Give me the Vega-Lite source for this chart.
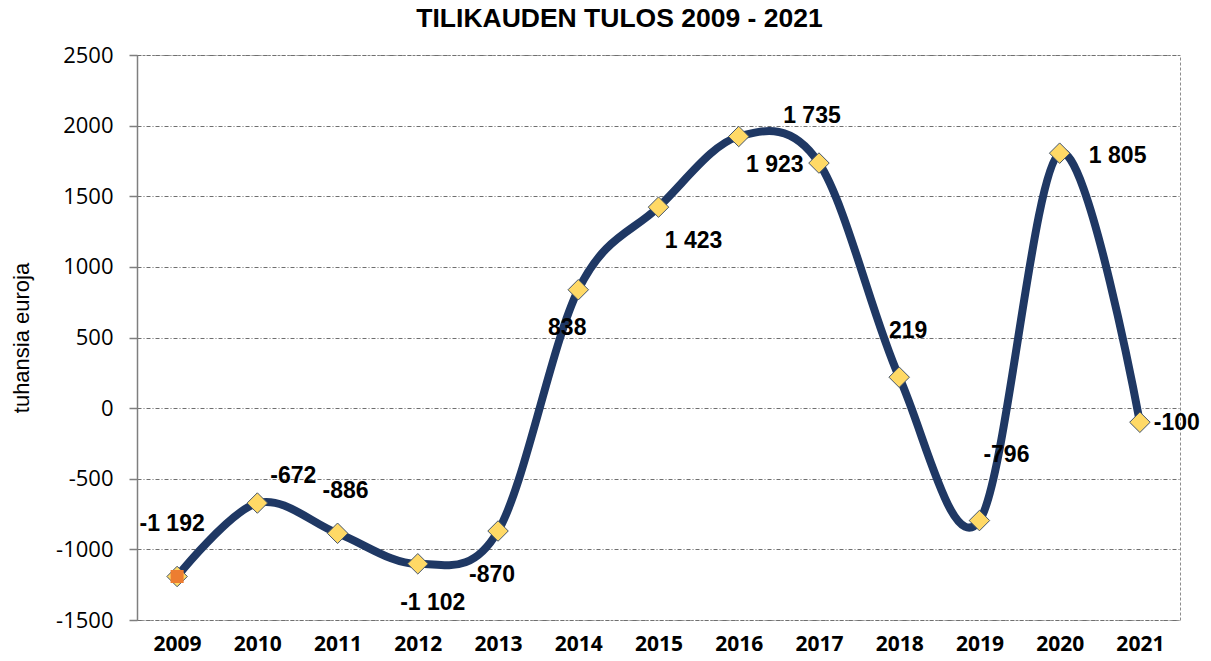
{
  "$schema": "https://vega.github.io/schema/vega-lite/v6.json",
  "width": 1043,
  "height": 565,
  "padding": {"left": 10, "top": 5, "right": 5, "bottom": 5},
  "background": "white",
  "title": {"text": "TILIKAUDEN TULOS 2009 - 2021", "font": "Liberation Sans", "fontSize": 26.5, "fontWeight": "bold", "color": "#000000", "anchor": "middle", "frame": "group", "dx": -39, "offset": 12},
  "config": {
    "view": {"stroke": "#8c8c8c", "strokeDash": [3, 2], "strokeWidth": 1},
    "font": "Liberation Sans"
  },
  "data": {"values": [
    {"year": "2009", "value": -1192, "label": "-1 192"},
    {"year": "2010", "value": -672, "label": "-672"},
    {"year": "2011", "value": -886, "label": "-886"},
    {"year": "2012", "value": -1102, "label": "-1 102"},
    {"year": "2013", "value": -870, "label": "-870"},
    {"year": "2014", "value": 838, "label": "838"},
    {"year": "2015", "value": 1423, "label": "1 423"},
    {"year": "2016", "value": 1923, "label": "1 923"},
    {"year": "2017", "value": 1735, "label": "1 735"},
    {"year": "2018", "value": 219, "label": "219"},
    {"year": "2019", "value": -796, "label": "-796"},
    {"year": "2020", "value": 1805, "label": "1 805"},
    {"year": "2021", "value": -100, "label": "-100"}
  ]},
  "encoding": {
    "x": {"field": "year", "type": "ordinal", "scale": {"type": "point", "padding": 0.5},
      "axis": {"title": null, "labelAngle": 0, "domain": false, "ticks": false, "labelFont": "Open Sans", "labelFontSize": 21, "labelFontWeight": "bold", "labelColor": "#000000", "labelPadding": 13}},
    "y": {"field": "value", "type": "quantitative", "scale": {"domain": [-1500, 2500], "nice": false, "zero": false},
      "axis": {"title": "tuhansia euroja", "titleFont": "Liberation Sans", "titleFontSize": 22, "titleFontWeight": "normal", "titleColor": "#000000", "titlePadding": 22,
        "values": [-1500, -1000, -500, 0, 500, 1000, 1500, 2000, 2500], "labelExpr": "datum.value + ''",
        "labelFont": "Open Sans", "labelFontSize": 22, "labelColor": "#000000", "labelPadding": 16,
        "domain": true, "domainColor": "#7f7f7f", "domainWidth": 1.5, "ticks": true, "tickSize": 8, "tickColor": "#7f7f7f", "tickWidth": 1.5,
        "grid": true, "gridColor": "#6f6f6f", "gridDash": [4, 2, 1, 2], "gridWidth": 1}}
  },
  "layer": [
    {"mark": {"type": "line", "interpolate": "cardinal", "color": "#1F3864", "strokeWidth": 8}},
    {"mark": {"type": "point", "shape": "diamond", "filled": true, "fill": "#FFD966", "stroke": "#44546A", "strokeWidth": 1, "size": 420, "opacity": 1}},
    {"transform": [{"filter": "datum.year == '2009'"}], "mark": {"type": "point", "shape": "square", "filled": true, "fill": "#ED7D31", "size": 170, "opacity": 1}},
    {"transform": [{"filter": "datum.year == '2009'"}], "mark": {"type": "text", "font": "Liberation Sans", "fontSize": 23, "fontWeight": "bold", "color": "#000000", "dx": -5, "dy": -52}, "encoding": {"text": {"field": "label"}}},
    {"transform": [{"filter": "datum.year == '2010'"}], "mark": {"type": "text", "font": "Liberation Sans", "fontSize": 23, "fontWeight": "bold", "color": "#000000", "dx": 36, "dy": -27}, "encoding": {"text": {"field": "label"}}},
    {"transform": [{"filter": "datum.year == '2011'"}], "mark": {"type": "text", "font": "Liberation Sans", "fontSize": 23, "fontWeight": "bold", "color": "#000000", "dx": 8, "dy": -42}, "encoding": {"text": {"field": "label"}}},
    {"transform": [{"filter": "datum.year == '2012'"}], "mark": {"type": "text", "font": "Liberation Sans", "fontSize": 23, "fontWeight": "bold", "color": "#000000", "dx": 15, "dy": 39}, "encoding": {"text": {"field": "label"}}},
    {"transform": [{"filter": "datum.year == '2013'"}], "mark": {"type": "text", "font": "Liberation Sans", "fontSize": 23, "fontWeight": "bold", "color": "#000000", "dx": -6, "dy": 44}, "encoding": {"text": {"field": "label"}}},
    {"transform": [{"filter": "datum.year == '2014'"}], "mark": {"type": "text", "font": "Liberation Sans", "fontSize": 23, "fontWeight": "bold", "color": "#000000", "dx": -11, "dy": 38}, "encoding": {"text": {"field": "label"}}},
    {"transform": [{"filter": "datum.year == '2015'"}], "mark": {"type": "text", "font": "Liberation Sans", "fontSize": 23, "fontWeight": "bold", "color": "#000000", "dx": 35, "dy": 34}, "encoding": {"text": {"field": "label"}}},
    {"transform": [{"filter": "datum.year == '2016'"}], "mark": {"type": "text", "font": "Liberation Sans", "fontSize": 23, "fontWeight": "bold", "color": "#000000", "dx": 36, "dy": 28}, "encoding": {"text": {"field": "label"}}},
    {"transform": [{"filter": "datum.year == '2017'"}], "mark": {"type": "text", "font": "Liberation Sans", "fontSize": 23, "fontWeight": "bold", "color": "#000000", "dx": -7, "dy": -47}, "encoding": {"text": {"field": "label"}}},
    {"transform": [{"filter": "datum.year == '2018'"}], "mark": {"type": "text", "font": "Liberation Sans", "fontSize": 23, "fontWeight": "bold", "color": "#000000", "dx": 9, "dy": -46}, "encoding": {"text": {"field": "label"}}},
    {"transform": [{"filter": "datum.year == '2019'"}], "mark": {"type": "text", "font": "Liberation Sans", "fontSize": 23, "fontWeight": "bold", "color": "#000000", "dx": 27, "dy": -66}, "encoding": {"text": {"field": "label"}}},
    {"transform": [{"filter": "datum.year == '2020'"}], "mark": {"type": "text", "font": "Liberation Sans", "fontSize": 23, "fontWeight": "bold", "color": "#000000", "dx": 58, "dy": 3}, "encoding": {"text": {"field": "label"}}},
    {"transform": [{"filter": "datum.year == '2021'"}], "mark": {"type": "text", "font": "Liberation Sans", "fontSize": 23, "fontWeight": "bold", "color": "#000000", "dx": 37, "dy": 1}, "encoding": {"text": {"field": "label"}}}
  ]
}
